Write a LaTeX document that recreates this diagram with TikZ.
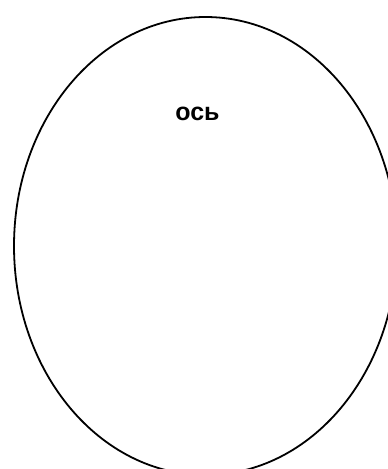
\documentclass[tikz,border=0pt]{standalone}
\usepackage{fontspec}
\setmainfont{Liberation Sans}
\usetikzlibrary{shapes.geometric}

\begin{document}
\begin{tikzpicture}[x=1pt,y=-1pt, every node/.style={font=\fontsize{25}{30}\selectfont\bfseries}]
\useasboundingbox (0,0) rectangle (388,469);
\node[draw,ellipse,line width=1.8pt,inner sep=0pt,minimum width=383pt,minimum height=458pt] (oval) at (205.5,246) {};
\node[inner sep=0pt] (axis) at (197.5,114) {ось};
\end{tikzpicture}
\end{document}
